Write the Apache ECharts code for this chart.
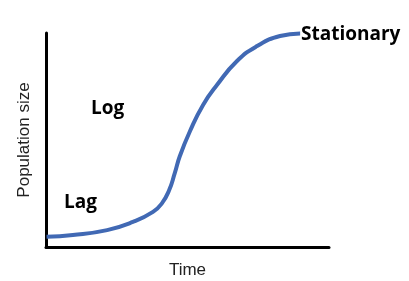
<!DOCTYPE html>
<html>
<head>
<meta charset="utf-8">
<script src="https://cdn.jsdelivr.net/npm/echarts@6/dist/echarts.min.js"></script>
<style>html,body{margin:0;padding:0;background:#fff;}#c{width:409px;height:281px;}</style>
</head>
<body>
<div id="c"></div>
<script>
// Time (arbitrary units) and population size (arbitrary units)
const time = [0.2, 9.5, 21.6, 30.7, 37.8, 41.0, 43.5, 45.5, 47.3, 50.9, 55.5, 60.4, 67.5, 74.6, 82.7, 89.8];
const population = [4.8, 5.6, 7.9, 11.7, 16.4, 20.5, 26.5, 34.5, 42.5, 54.2, 66.4, 75.7, 86.9, 93.9, 98.6, 99.8];
const phaseLabels = ["Lag", "Log", "Stationary"];
const xTitle = "Time";
const yTitle = "Population size";

const chart = echarts.init(document.getElementById('c'), null, {renderer: 'canvas'});
const axisStyle = {show: true, lineStyle: {color: '#000', width: 3}};
chart.setOption({
  animation: false,
  grid: {left: 46, right: 80, top: 33, bottom: 34, containLabel: false, outerBoundsMode: 'none'},
  xAxis: {
    type: 'value', min: 0, max: 100,
    name: xTitle, nameLocation: 'middle', nameGap: 15,
    nameTextStyle: {fontFamily: 'Liberation Sans', fontSize: 17, color: '#222'},
    axisLine: axisStyle, axisTick: {show: false}, axisLabel: {show: false}, splitLine: {show: false}
  },
  yAxis: {
    type: 'value', min: 0, max: 100,
    name: yTitle, nameLocation: 'middle', nameGap: 13,
    nameTextStyle: {fontFamily: 'Liberation Sans', fontSize: 17, color: '#222'},
    axisLine: axisStyle, axisTick: {show: false}, axisLabel: {show: false}, splitLine: {show: false}
  },
  series: [{
    type: 'line',
    data: time.map((t, i) => [t, population[i]]),
    smooth: 0.5,
    showSymbol: false,
    lineStyle: {color: '#4169b4', width: 4}
  }],
  graphic: [
    {type: 'text', left: 64, top: 193, style: {text: phaseLabels[0], font: 'bold 19px "Open Sans"', fill: '#000'}},
    {type: 'text', left: 91, top: 99, style: {text: phaseLabels[1], font: 'bold 19px "Open Sans"', fill: '#000'}},
    {type: 'text', left: 301, top: 25, style: {text: phaseLabels[2], font: 'bold 19px "Open Sans"', fill: '#000'}}
  ]
});
</script>
</body>
</html>
